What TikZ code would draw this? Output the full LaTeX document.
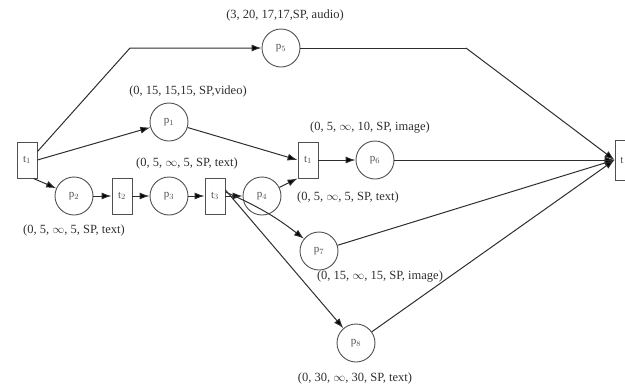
\documentclass[tikz,border=0pt]{standalone}
\usepackage{fontspec}
\setmainfont{Liberation Serif}
\usetikzlibrary{arrows.meta}
\definecolor{ln}{HTML}{2E2E2E}
\definecolor{cg}{HTML}{505050}
\tikzset{
  place/.style={circle, draw=cg, line width=0.9pt, minimum size=38pt, inner sep=0pt, font=\fontsize{11}{12}\selectfont, text=cg},
  trans/.style={rectangle, draw=cg, line width=0.9pt, minimum width=20pt, minimum height=36pt, inner sep=0pt, font=\fontsize{11}{12}\selectfont, text=cg},
  lbl/.style={font=\fontsize{12.5}{14}\selectfont, text=ln, inner sep=0pt},
  arr/.style={draw=ln, line width=1pt, -{Latex[length=10pt,width=7pt,fill=black]}},
  ln/.style={draw=ln, line width=1pt}
}
\begin{document}
\begin{tikzpicture}[x=1pt,y=-1pt]
\useasboundingbox (0,0) rectangle (625,389);
\clip (0,0) rectangle (625,389);
% nodes
\node[trans] (t1) at (27,160) {t$_1$};
\node[place] (p5) at (281,48) {p$_5$};
\node[place] (p1) at (169,122) {p$_1$};
\node[trans] (t4) at (308,160) {t$_1$};
\node[place] (p6) at (375,160) {p$_6$};
\node[trans, minimum height=40pt] (tf) at (625,160) {\hspace*{-6pt}t};
\node[place] (p2) at (74,196) {p$_2$};
\node[trans] (t2) at (122,196) {t$_2$};
\node[place] (p3) at (169,196) {p$_3$};
\node[trans] (t3) at (215,196) {t$_3$};
\node[place] (p4) at (262,196) {p$_4$};
\node[place] (p7) at (319,251) {p$_7$};
\node[place] (p8) at (356,343) {p$_8$};
\coordinate (b1) at (130,48);
\coordinate (b2) at (466,48);
% labels
\node[lbl] (l5) at (285,15) {(3, 20, 17,17,SP, audio)};
\node[lbl] (l1) at (188,91) {(0, 15, 15,15, SP,video)};
\node[lbl] (l6) at (370,128) {(0, 5, $\infty$, 10, SP, image)};
\node[lbl] (l3) at (187,163) {(0, 5, $\infty$, 5, SP, text)};
\node[lbl] (l4) at (348,197) {(0, 5, $\infty$, 5, SP, text)};
\node[lbl] (l2) at (74,230) {(0, 5, $\infty$, 5, SP, text)};
\node[lbl] (l7) at (380,277) {(0, 15, $\infty$, 15, SP, image)};
\node[lbl] (l8) at (355,378) {(0, 30, $\infty$, 30, SP, text)};
% connectors
\draw[arr] (t1.north east) ++(0,10) -- (b1) -- (p5);
\draw[ln] (p5) -- (b2);
\draw[arr] (b2) -- (tf.west);
\draw[arr] (t1.east) -- (p1);
\draw[arr] (p1) -- (t4.west);
\draw[arr] (t4) -- (p6);
\draw[arr] (p6) -- (tf.west);
\draw[arr] ([xshift=-4pt]t1.south east) -- (p2);
\draw[arr] (p2) -- (t2);
\draw[arr] (t2) -- (p3);
\draw[arr] (p3) -- (t3);
\draw[arr] (t3) -- (p4);
\draw[arr] (p4) -- (t4.south west);
\draw[arr] ([yshift=4pt]t3.east) to[bend left=7] (p7);
\draw[arr] ([yshift=6pt]t3.east) -- (p8);
\draw[arr] (p7) -- (tf.west);
\draw[arr] (p8) -- (tf.west);
\end{tikzpicture}
\end{document}
